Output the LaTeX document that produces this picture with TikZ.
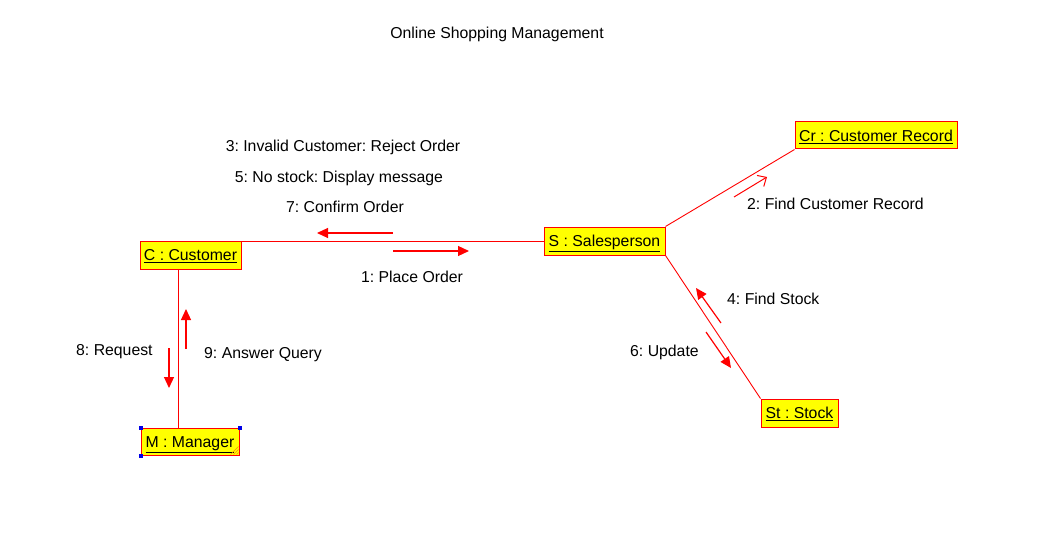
\documentclass[tikz,border=0pt]{standalone}
\usepackage{fontspec}
\setmainfont{Liberation Sans}
\usetikzlibrary{arrows.meta}
\definecolor{objred}{RGB}{255,0,0}
\definecolor{objyel}{RGB}{255,255,0}
\definecolor{selblue}{RGB}{0,0,230}
\definecolor{gripor}{RGB}{255,140,0}
\frenchspacing
\tikzset{
  txt/.style={font=\fontsize{15.8}{19}\selectfont\frenchspacing, inner sep=0pt, text=black, text height=11.3pt, text depth=0pt},
  obj/.style={txt, draw=objred, fill=objyel, line width=1pt, minimum height=28pt},
  link/.style={draw=objred, line width=0.9pt},
  msgfill/.style={draw=objred, line width=1.2pt, -{Triangle[length=11pt,width=10pt]}},
  msgopen/.style={draw=objred, line width=1pt, -{Straight Barb[length=7pt,width=13pt]}},
  grip/.style={draw=gripor, line width=0.6pt},
  handle/.style={fill=selblue, draw=none}
}
\begin{document}
\begin{tikzpicture}[x=1pt,y=-1pt]
\useasboundingbox[fill=white] (0,0) rectangle (1045,559);

\node[txt] (title) at (497,33) {Online Shopping Management};

% objects
\node[obj, minimum width=101pt] (C) at (190.5,255) {\underline{C : Customer}};
\node[obj, minimum width=98pt, minimum height=27pt] (M) at (190,441.5) {\underline{M : Manager}};
\node[obj, minimum width=121pt] (S) at (604.5,241) {\underline{S : Salesperson}};
\node[obj, minimum width=162pt, minimum height=27pt] (Cr) at (876,135.5) {\underline{Cr : Customer Record}};
\node[obj, minimum width=77pt] (St) at (799.5,413) {\underline{St : Stock}};

% selection handles on M
\fill[handle] ([shift={(-2,-2)}]M.north west) rectangle ++(4,4);
\fill[handle] ([shift={(-2,-2)}]M.north east) rectangle ++(4,4);
\fill[handle] ([shift={(-2,-2)}]M.south west) rectangle ++(4,4);
\draw[grip] ([shift={(-9,-1)}]M.south east) -- ([shift={(-1,-9)}]M.south east);
\draw[grip] ([shift={(-6,-1)}]M.south east) -- ([shift={(-1,-6)}]M.south east);
\draw[grip] ([shift={(-3,-1)}]M.south east) -- ([shift={(-1,-3)}]M.south east);

% links
\draw[link] (S.west) -- (C.east |- S.west);
\draw[link] ([xshift=-12.5pt]C.south) -- ([xshift=-12pt]M.north);
\draw[link] (S.north east) -- (Cr.south west);
\draw[link] (S.south east) -- (St.north west);

% message arrow coordinates
\coordinate (m7s) at (393,233);  \coordinate (m7e) at (317,233);
\coordinate (m1s) at (393,251);  \coordinate (m1e) at (469,251);
\coordinate (m2s) at (734,197);  \coordinate (m2e) at (767,177);
\coordinate (m4s) at (721,323);  \coordinate (m4e) at (696,288);
\coordinate (m6s) at (706,332);  \coordinate (m6e) at (731,368);
\coordinate (m8s) at (169,348);  \coordinate (m8e) at (169,388);
\coordinate (m9s) at (186,349);  \coordinate (m9e) at (186,309);

\draw[msgfill] (m7s) -- (m7e);
\draw[msgfill] (m1s) -- (m1e);
\draw[msgopen] (m2s) -- (m2e);
\draw[msgfill] (m4s) -- (m4e);
\draw[msgfill] (m6s) -- (m6e);
\draw[msgfill] (m8s) -- (m8e);
\draw[msgfill] (m9s) -- (m9e);

% message labels
\node[txt] (l3) at (343,146) {3: Invalid Customer: Reject Order};
\node[txt] (l5) at (339,177) {5: No stock: Display message};
\node[txt] (l7) at (345,207) {7: Confirm Order};
\node[txt] (l1) at (412,277) {1: Place Order};
\node[txt, anchor=west] (l2) at (747,204) {2: Find Customer Record};
\node[txt, anchor=west] (l4) at (727,299) {4: Find Stock};
\node[txt, anchor=west] (l6) at (630,351) {6: Update};
\node[txt, anchor=west] (l8) at (76,350) {8: Request};
\node[txt, anchor=west] (l9) at (204,353) {9: Answer Query};
\end{tikzpicture}
\end{document}
